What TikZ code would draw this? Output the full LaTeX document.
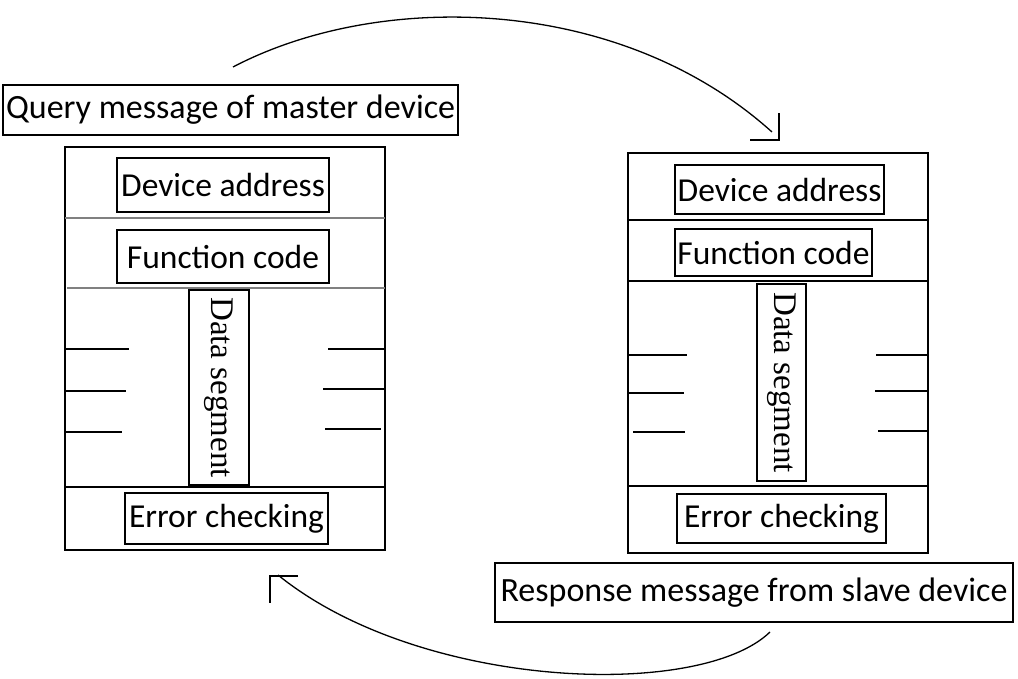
\documentclass[tikz,border=0pt]{standalone}
\usepackage{fontspec}
\setmainfont{Carlito}
\newfontfamily\timesf{Liberation Serif}
\begin{document}
\begin{tikzpicture}[x=1pt,y=-1pt,
  frame/.style={draw=black,line width=1.3pt},
  lbl/.style={draw=black,line width=1.3pt,inner sep=0pt,font=\fontsize{34}{40}\selectfont},
  field/.style={draw=black,line width=1.3pt,inner sep=0pt,font=\fontsize{33.5}{40}\selectfont},
  seg/.style={draw=black,line width=1.3pt,inner sep=0pt,font=\timesf\fontsize{33}{38}\selectfont},
  sep/.style={line width=1.3pt},
  tick/.style={line width=1.3pt},
  arc/.style={line width=1.3pt}]
\useasboundingbox (0,0) rectangle (1018,679);
% left block
\node[lbl,minimum width=455pt,minimum height=50pt] (qlab) at (230.5,110) {Query message of master device};
\node[frame,minimum width=320pt,minimum height=403pt,inner sep=0pt] (lbox) at (225,348.5) {};
\draw[sep,draw=gray] (65,218) -- (385,218);
\draw[sep,draw=gray] (67,288) -- (385,288);
\draw[sep] (65,487) -- (385,487);
\node[field,minimum width=212pt,minimum height=54pt] (lda) at (223,185) {Device address};
\node[field,minimum width=212pt,minimum height=53pt] (lfc) at (223,256.5) {Function code};
\node[seg,minimum width=195pt,minimum height=60pt,rotate=-90] (lds) at (219,387.5) {Data segment};
\node[field,minimum width=203pt,minimum height=51pt] (lec) at (226.5,518.5) {Error checking};
\draw[tick] (66,349) -- (129,349);
\draw[tick] (66,391) -- (126,391);
\draw[tick] (66,432) -- (122,432);
\draw[tick] (328,349) -- (385,349);
\draw[tick] (323,389) -- (385,389);
\draw[tick] (325,429) -- (381,429);
% right block
\node[frame,minimum width=300pt,minimum height=400pt,inner sep=0pt] (rbox) at (778,353) {};
\draw[sep] (628,220) -- (928,220);
\draw[sep] (628,281) -- (928,281);
\draw[sep] (628,486) -- (928,486);
\node[field,minimum width=209pt,minimum height=49pt] (rda) at (779.5,189.5) {Device address};
\node[field,minimum width=197pt,minimum height=47pt] (rfc) at (773.5,252.5) {Function code};
\node[seg,minimum width=197pt,minimum height=49pt,rotate=-90] (rds) at (781.5,382.5) {Data segment};
\node[field,minimum width=209pt,minimum height=49pt] (rec) at (781.5,518.5) {Error checking};
\draw[tick] (629,355) -- (687,355);
\draw[tick] (629,393) -- (684,393);
\draw[tick] (633,432) -- (685,432);
\draw[tick] (876,355) -- (928,355);
\draw[tick] (875,391) -- (928,391);
\draw[tick] (878,431) -- (928,431);
\node[lbl,minimum width=518pt,minimum height=59pt] (rlab) at (754,592.5) {Response message from slave device};
% arcs
\coordinate (t0) at (233,67);
\coordinate (t1) at (772,132);
\coordinate (b0) at (770,632);
\coordinate (b1) at (278,575);
\draw[arc] (t0) .. controls (380,-10) and (620,-5) .. (t1);
\draw[arc] (750,140) -- (779,140) -- (779,113);
\draw[arc] (b0) .. controls (700,700) and (420,690) .. (b1);
\draw[arc] (298,576) -- (270,576) -- (270,603);
\end{tikzpicture}
\end{document}
